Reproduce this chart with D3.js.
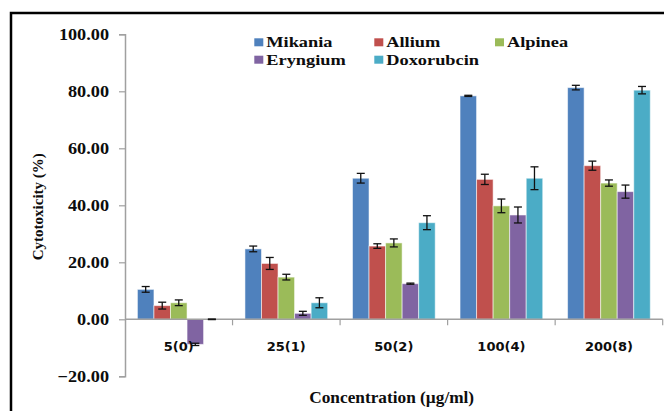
<!DOCTYPE html>
<html>
<head>
<meta charset="utf-8">
<script src="https://cdn.jsdelivr.net/npm/d3@7/dist/d3.min.js"></script>
<style>
  body { margin: 0; background: #fff; }
  svg { display: block; }
</style>
</head>
<body>
<div class="chart-container"></div>
<script>
// categories and series values
var categories = ["5(0)", "25(1)", "50(2)", "100(4)", "200(8)"];
var seriesNames = ["Mikania", "Allium", "Alpinea", "Eryngium", "Doxorubcin"];
var seriesColors = ["#4f81bd", "#c0504d", "#9bbb59", "#8064a2", "#4bacc6"];

var mikania = [10.5, 24.7, 49.5, 78.4, 81.3];
var allium = [4.8, 19.6, 25.7, 49.1, 53.9];
var alpinea = [5.8, 14.8, 26.8, 39.8, 47.8];
var eryngium = [-8.8, 2.1, 12.5, 36.6, 44.8];
var doxorubcin = [0.0, 5.8, 33.9, 49.5, 80.4];

var mikaniaErr = [1.0, 1.0, 1.7, 0.2, 0.8];
var alliumErr = [1.2, 2.1, 0.8, 1.8, 1.6];
var alpineaErr = [1.0, 1.0, 1.4, 2.4, 1.1];
var eryngiumErr = [0.4, 0.7, 0.2, 2.8, 2.3];
var doxorubcinErr = [0.1, 1.75, 2.45, 4.0, 1.3];

var yTicks = [-20, 0, 20, 40, 60, 80, 100];

var values = [mikania, allium, alpinea, eryngium, doxorubcin];
var errors = [mikaniaErr, alliumErr, alpineaErr, eryngiumErr, doxorubcinErr];

// flatten into one row per bar
var bars = [];
categories.forEach(function(c, i) {
  seriesNames.forEach(function(s, j) {
    bars.push({cat: c, series: s, value: values[j][i], err: errors[j][i], color: seriesColors[j]});
  });
});

var width = 664, height = 411;
var serif = "'Liberation Serif', 'Times New Roman', serif";

var svg = d3.select(".chart-container").append("svg")
    .attr("width", width)
    .attr("height", height);

// outer frame (runs off the right and bottom edge)
svg.append("rect")
    .attr("x", 11)
    .attr("y", 13)
    .attr("width", 700)
    .attr("height", 500)
    .attr("fill", "none")
    .attr("stroke", "#000")
    .attr("stroke-width", 2.5);

// scales
var x0 = d3.scaleBand()
    .domain(categories)
    .range([125, 662.7])
    .padding(0);

var x1 = d3.scaleBand()
    .domain(seriesNames)
    .range([0, x0.bandwidth()])
    .paddingInner(0)
    .paddingOuter(0.75);

var y = d3.scaleLinear()
    .domain([-20, 100])
    .range([376.3, 34.3]);

// y axis
var yAxis = svg.append("g")
    .attr("transform", "translate(125,0)")
    .call(d3.axisLeft(y)
      .tickValues(yTicks)
      .tickSizeOuter(0)
      .tickSize(6)
      .tickPadding(10)
      .tickFormat(d3.format(".2f")));

yAxis.select(".domain").attr("stroke", "#a0a0a0").attr("stroke-width", 1.5);
yAxis.selectAll(".tick line").attr("stroke", "#a0a0a0").attr("stroke-width", 1.2);
yAxis.selectAll(".tick text")
    .attr("font-family", serif)
    .attr("font-weight", "bold")
    .attr("font-size", 16)
    .attr("fill", "#0d0d0d")
    .attr("x", -16 / 1.14)
    .attr("transform", "scale(1.14,1)");

// bars
svg.selectAll(".bar")
    .data(bars)
  .enter().append("rect")
    .attr("class", "bar")
    .attr("x", function(d) { return x0(d.cat) + x1(d.series); })
    .attr("width", x1.bandwidth())
    .attr("y", function(d) { return y(Math.max(0, d.value)); })
    .attr("height", function(d) { return Math.abs(y(d.value) - y(0)); })
    .attr("fill", function(d) { return d.color; })
    .attr("stroke", "rgba(255,255,255,0.55)")
    .attr("stroke-width", 1);

// x axis along zero
var xAxis = svg.append("g")
    .attr("transform", "translate(0," + y(0) + ")");

xAxis.append("line")
    .attr("x1", 125)
    .attr("x2", x0.range()[1])
    .attr("stroke", "#a0a0a0")
    .attr("stroke-width", 1.5);

var bounds = categories.map(function(c) { return x0(c) + x0.bandwidth(); });
xAxis.selectAll(".xtick")
    .data(bounds)
  .enter().append("line")
    .attr("x1", function(d) { return d; })
    .attr("x2", function(d) { return d; })
    .attr("y1", 0)
    .attr("y2", 6)
    .attr("stroke", "#a0a0a0")
    .attr("stroke-width", 1.2);

// error bars
var err = svg.selectAll(".err")
    .data(bars)
  .enter().append("g")
    .attr("class", "err")
    .attr("stroke", "#111")
    .attr("stroke-width", 1.3);

function cx(d) { return x0(d.cat) + x1(d.series) + x1.bandwidth() / 2; }

err.append("line")
    .attr("x1", cx).attr("x2", cx)
    .attr("y1", function(d) { return y(d.value + d.err); })
    .attr("y2", function(d) { return y(d.value - d.err); });
err.append("line")
    .attr("x1", function(d) { return cx(d) - 4; })
    .attr("x2", function(d) { return cx(d) + 4; })
    .attr("y1", function(d) { return y(d.value + d.err); })
    .attr("y2", function(d) { return y(d.value + d.err); });
err.append("line")
    .attr("x1", function(d) { return cx(d) - 4; })
    .attr("x2", function(d) { return cx(d) + 4; })
    .attr("y1", function(d) { return y(d.value - d.err); })
    .attr("y2", function(d) { return y(d.value - d.err); });

// category labels
svg.selectAll(".catlabel")
    .data(categories)
  .enter().append("text")
    .attr("class", "catlabel")
    .attr("x", function(d) { return x0(d) + x0.bandwidth() / 2; })
    .attr("y", 350.5)
    .attr("text-anchor", "middle")
    .attr("font-family", "'DejaVu Sans', Verdana, sans-serif")
    .attr("font-weight", "bold")
    .attr("font-size", 13)
    .attr("fill", "#0d0d0d")
    .text(function(d) { return d; });

// axis titles
svg.append("text")
    .attr("transform", "translate(43,206.7) rotate(-90)")
    .attr("text-anchor", "middle")
    .attr("font-family", serif)
    .attr("font-weight", "bold")
    .attr("font-size", 15)
    .attr("fill", "#0d0d0d")
    .text("Cytotoxicity (%)");

svg.append("text")
    .attr("transform", "translate(391.7,403) scale(1.08,1)")
    .attr("text-anchor", "middle")
    .attr("font-family", serif)
    .attr("font-weight", "bold")
    .attr("font-size", 16)
    .attr("fill", "#0d0d0d")
    .text("Concentration (\u00b5g/ml)");

// legend, 3 columns
var legendX = [254.3, 374.3, 495];
var legend = svg.selectAll(".legend")
    .data(seriesNames)
  .enter().append("g")
    .attr("class", "legend")
    .attr("transform", function(d, i) {
      return "translate(" + legendX[i % 3] + "," + (38.3 + Math.floor(i / 3) * 17.4) + ")";
    });

legend.append("rect")
    .attr("width", 9)
    .attr("height", 8)
    .attr("fill", function(d, i) { return seriesColors[i]; });

legend.append("text")
    .attr("transform", "translate(12,9) scale(1.31,1)")
    .attr("font-family", serif)
    .attr("font-weight", "bold")
    .attr("font-size", 14)
    .attr("fill", "#0d0d0d")
    .text(function(d) { return d; });
</script>
</body>
</html>
